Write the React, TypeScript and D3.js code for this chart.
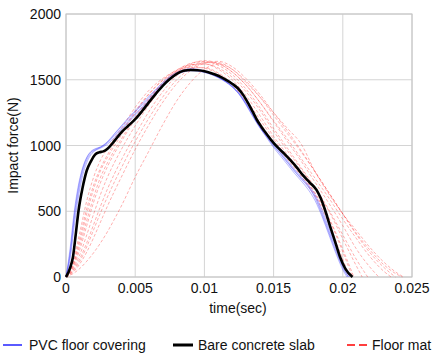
import React from "react";
import * as d3 from "d3";

// time in milliseconds, force in N
const xTicks = [0, 0.005, 0.01, 0.015, 0.02, 0.025];
const xTickLabels = ["0", "0.005", "0.01", "0.015", "0.02", "0.025"];
const yTicks = [0, 500, 1000, 1500, 2000];
const yTickLabels = ["0", "500", "1000", "1500", "2000"];
const xLabel = "time(sec)";
const yLabel = "Impact force(N)";
const legendLabels = ["PVC floor covering", "Bare concrete slab", "Floor mat"];

const bareConcrete: [number, number][] = [
  [0, 0], [0.3, 70], [0.5, 150], [0.7, 320], [0.9, 500], [1.2, 680], [1.5, 810], [1.8, 880],
  [2.1, 930], [2.4, 948], [2.7, 955], [3.0, 975], [3.5, 1035], [4.0, 1100], [4.5, 1150],
  [5.0, 1200], [5.5, 1262], [6.0, 1330], [6.5, 1395], [7.0, 1455], [7.5, 1505], [8.0, 1545],
  [8.5, 1568], [9.0, 1574], [9.5, 1572], [10.0, 1565], [10.5, 1550], [11.0, 1530],
  [11.5, 1503], [12.0, 1470], [12.4, 1437], [12.8, 1385], [13.2, 1315], [13.5, 1255],
  [13.8, 1194], [14.1, 1145], [14.4, 1100], [14.8, 1045], [15.3, 985], [15.8, 935],
  [16.2, 890], [16.7, 830], [17.1, 776], [17.6, 720], [18.1, 662], [18.4, 600], [18.7, 515],
  [19.1, 380], [19.5, 250], [19.8, 152], [20.2, 60], [20.7, 0],
];

const pvc1: [number, number][] = [
  [0, 0], [0.3, 170], [0.6, 440], [0.9, 650], [1.2, 800], [1.5, 890], [1.8, 940], [2.1, 965],
  [2.5, 985], [3, 1020], [3.5, 1075], [4, 1130], [4.5, 1185], [5, 1240], [5.5, 1295], [6, 1350],
  [6.5, 1410], [7, 1465], [7.5, 1510], [8, 1545], [8.5, 1565], [9, 1572], [9.5, 1568], [10, 1558],
  [10.5, 1540], [11, 1515], [11.5, 1485], [12, 1445], [12.5, 1390], [13, 1310], [13.5, 1220],
  [14, 1135], [14.5, 1065], [15, 995], [15.5, 935], [16, 870], [16.5, 805], [17, 745],
  [17.5, 685], [18, 610], [18.5, 490], [19, 350], [19.5, 210], [20, 80], [20.4, 0],
];
const pvc2: [number, number][] = [
  [0, 0], [0.3, 220], [0.6, 500], [0.9, 700], [1.2, 830], [1.5, 910], [1.8, 955], [2.1, 975],
  [2.5, 990], [3, 1030], [3.5, 1090], [4, 1150], [4.5, 1210], [5, 1265], [5.5, 1320], [6, 1375],
  [6.5, 1430], [7, 1480], [7.5, 1525], [8, 1555], [8.5, 1575], [9, 1585], [9.5, 1580], [10, 1568],
  [10.5, 1550], [11, 1522], [11.5, 1490], [12, 1450], [12.5, 1395], [13, 1320], [13.5, 1230],
  [14, 1140], [14.5, 1060], [15, 985], [15.5, 920], [16, 855], [16.5, 790], [17, 730],
  [17.5, 665], [18, 580], [18.5, 460], [19, 320], [19.5, 180], [20, 55], [20.3, 0],
];
const pvc3: [number, number][] = [
  [0, 0], [0.3, 140], [0.6, 390], [0.9, 610], [1.2, 770], [1.5, 870], [1.8, 930], [2.1, 960],
  [2.5, 980], [3, 1010], [3.5, 1060], [4, 1120], [4.5, 1175], [5, 1230], [5.5, 1285], [6, 1340],
  [6.5, 1400], [7, 1455], [7.5, 1500], [8, 1538], [8.5, 1560], [9, 1568], [9.5, 1565], [10, 1555],
  [10.5, 1540], [11, 1518], [11.5, 1490], [12, 1452], [12.5, 1400], [13, 1325], [13.5, 1240],
  [14, 1150], [14.5, 1080], [15, 1010], [15.5, 950], [16, 885], [16.5, 820], [17, 760],
  [17.5, 700], [18, 625], [18.5, 510], [19, 370], [19.5, 230], [20, 100], [20.5, 0],
];
const pvc4: [number, number][] = [
  [0, 0], [0.3, 190], [0.6, 470], [0.9, 680], [1.2, 820], [1.5, 905], [1.8, 950], [2.1, 970],
  [2.5, 988], [3, 1025], [3.5, 1085], [4, 1145], [4.5, 1200], [5, 1255], [5.5, 1310], [6, 1365],
  [6.5, 1420], [7, 1472], [7.5, 1515], [8, 1550], [8.5, 1570], [9, 1578], [9.5, 1574], [10, 1562],
  [10.5, 1545], [11, 1520], [11.5, 1488], [12, 1448], [12.5, 1392], [13, 1315], [13.5, 1225],
  [14, 1140], [14.5, 1070], [15, 1000], [15.5, 940], [16, 875], [16.5, 810], [17, 750],
  [17.5, 690], [18, 600], [18.5, 475], [19, 335], [19.5, 195], [20, 70], [20.4, 0],
];

const mat1: [number, number][] = [
  [0, 0], [0.5, 120], [1, 340], [1.5, 580], [2, 760], [2.5, 890], [3, 980], [4, 1130], [5, 1290],
  [6, 1420], [7, 1510], [8, 1570], [9, 1598], [10, 1588], [11, 1545], [12, 1465], [13, 1335],
  [14, 1175], [15, 1025], [16, 895], [17, 765], [18, 615], [19, 405], [20, 135], [20.5, 0],
];
const mat2: [number, number][] = [
  [0, 0], [0.5, 90], [1, 270], [1.5, 480], [2, 670], [2.5, 810], [3, 910], [4, 1080], [5, 1250],
  [6, 1390], [7, 1500], [8, 1575], [9, 1615], [10, 1620], [11, 1580], [12, 1500], [13, 1380],
  [14, 1230], [15, 1070], [16, 930], [17, 790], [18, 640], [19, 450], [20, 210], [20.8, 0],
];
const mat3: [number, number][] = [
  [0, 0], [0.5, 70], [1, 210], [1.5, 390], [2, 570], [2.5, 720], [3, 840], [4, 1030], [5, 1200],
  [6, 1350], [7, 1480], [8, 1570], [9, 1625], [10, 1640], [11, 1610], [12, 1540], [13, 1430],
  [14, 1290], [15, 1130], [16, 980], [17, 830], [18, 680], [19, 510], [20, 320], [21, 130], [21.8, 0],
];
const mat4: [number, number][] = [
  [0, 0], [0.5, 60], [1, 170], [1.5, 320], [2, 480], [2.5, 630], [3, 760], [4, 970], [5, 1150],
  [6, 1310], [7, 1450], [8, 1555], [9, 1620], [10, 1645], [11, 1625], [12, 1560], [13, 1460],
  [14, 1330], [15, 1180], [16, 1030], [17, 880], [18, 720], [19, 560], [20, 390], [21, 210],
  [22, 70], [22.6, 0],
];
const mat5: [number, number][] = [
  [0, 0], [0.5, 50], [1, 140], [1.5, 260], [2, 400], [2.5, 540], [3, 670], [4, 890], [5, 1080],
  [6, 1260], [7, 1410], [8, 1530], [9, 1605], [10, 1635], [11, 1620], [12, 1560], [13, 1460],
  [14, 1330], [15, 1190], [16, 1050], [17, 900], [18, 750], [19, 600], [20, 440], [21, 290],
  [22, 150], [23, 40], [23.5, 0],
];
const mat6: [number, number][] = [
  [0, 0], [0.5, 25], [1, 65], [1.5, 120], [2, 185], [2.5, 260], [3, 345], [3.5, 440], [4, 540],
  [5, 760], [6, 960], [7, 1160], [8, 1340], [9, 1480], [10, 1580], [11, 1620], [12, 1580],
  [13, 1480], [14, 1370], [15, 1250], [16, 1130], [17, 1010], [18, 800], [19, 630], [20, 480],
  [21, 350], [22, 220], [23, 110], [24, 25], [24.4, 0],
];
const mat7: [number, number][] = [
  [0, 0], [0.5, 100], [1, 300], [1.5, 520], [2, 700], [2.5, 830], [3, 930], [4, 1100], [5, 1260],
  [6, 1395], [7, 1495], [8, 1560], [9, 1592], [10, 1592], [11, 1552], [12, 1472], [13, 1350],
  [14, 1200], [15, 1050], [16, 910], [17, 780], [18, 630], [19, 440], [20, 190], [20.7, 0],
];
const mat8: [number, number][] = [
  [0, 0], [0.5, 45], [1, 120], [1.5, 230], [2, 360], [2.5, 490], [3, 610], [4, 830], [5, 1030],
  [6, 1210], [7, 1370], [8, 1500], [9, 1585], [10, 1630], [11, 1630], [12, 1580], [13, 1490],
  [14, 1370], [15, 1230], [16, 1090], [17, 950], [18, 800], [19, 640], [20, 480], [21, 320],
  [22, 180], [23, 70], [23.8, 0],
];
const mat9: [number, number][] = [
  [0, 0], [0.5, 80], [1, 240], [1.5, 430], [2, 610], [2.5, 760], [3, 870], [4, 1050], [5, 1215],
  [6, 1360], [7, 1475], [8, 1562], [9, 1610], [10, 1620], [11, 1590], [12, 1520], [13, 1410],
  [14, 1270], [15, 1110], [16, 960], [17, 820], [18, 670], [19, 500], [20, 290], [21, 80], [21.4, 0],
];
const mat10: [number, number][] = [
  [0, 0], [0.5, 35], [1, 100], [1.5, 190], [2, 300], [2.5, 420], [3, 540], [4, 760], [5, 970],
  [6, 1160], [7, 1330], [8, 1470], [9, 1570], [10, 1625], [11, 1640], [12, 1600], [13, 1510],
  [14, 1390], [15, 1250], [16, 1110], [17, 960], [18, 800], [19, 640], [20, 480], [21, 330],
  [22, 200], [23, 90], [24, 15], [24.3, 0],
];

const pvcSeries = [pvc1, pvc2, pvc3, pvc4];
const matSeries = [mat1, mat2, mat3, mat4, mat5, mat6, mat7, mat8, mat9, mat10];

const W = 432;
const H = 359;
const M = { left: 66, right: 412, top: 14, bottom: 277 };
const FONT = "'Liberation Sans', Arial, sans-serif";

export default function App() {
  const x = d3.scaleLinear().domain([0, 0.025]).range([M.left, M.right]);
  const y = d3.scaleLinear().domain([0, 2000]).range([M.bottom, M.top]);
  const line = d3
    .line<[number, number]>()
    .x((d) => x(d[0] / 1000))
    .y((d) => y(d[1]))
    .curve(d3.curveMonotoneX);

  const legendY = 345;
  return (
    <svg
      width={W}
      height={H}
      style={{ position: "absolute", left: 0, top: 0, background: "#fff" }}
      fontFamily={FONT}
    >
      <rect x={0} y={0} width={W} height={H} fill="#fff" />
      {xTicks.map((t) => (
        <line key={"gx" + t} x1={x(t)} x2={x(t)} y1={M.top} y2={M.bottom} stroke="#d4d4d4" strokeWidth={1} />
      ))}
      {yTicks.map((t) => (
        <line key={"gy" + t} x1={M.left} x2={M.right} y1={y(t)} y2={y(t)} stroke="#d4d4d4" strokeWidth={1} />
      ))}
      <rect x={M.left} y={M.top} width={M.right - M.left} height={M.bottom - M.top} fill="none" stroke="#c4c4c4" strokeWidth={1} />

      <defs>
        <clipPath id="plotclip">
          <rect x={M.left - 2} y={M.top} width={M.right - M.left + 4} height={M.bottom - M.top + 2} />
        </clipPath>
      </defs>
      <g clipPath="url(#plotclip)">
        {matSeries.map((s, i) => (
          <path key={"m" + i} d={line(s) || ""} fill="none" stroke="#ff2020" strokeOpacity={0.45} strokeWidth={0.8} strokeDasharray="3,2" />
        ))}
        {pvcSeries.map((s, i) => (
          <path key={"p" + i} d={line(s) || ""} fill="none" stroke="#3030ff" strokeOpacity={0.35} strokeWidth={1} />
        ))}
        <path d={line(bareConcrete) || ""} fill="none" stroke="#000" strokeWidth={2.6} strokeLinejoin="round" />
      </g>

      {yTicks.map((t, i) => (
        <text key={"ty" + t} x={61} y={y(t) + 5} textAnchor="end" fontSize={14} fill="#111">
          {yTickLabels[i]}
        </text>
      ))}
      {xTicks.map((t, i) => (
        <text key={"tx" + t} x={x(t)} y={293} textAnchor="middle" fontSize={14} fill="#111">
          {xTickLabels[i]}
        </text>
      ))}
      <text x={238} y={313} textAnchor="middle" fontSize={14} fill="#111">
        {xLabel}
      </text>
      <text transform={`translate(18,${(M.top + M.bottom) / 2}) rotate(-90)`} textAnchor="middle" fontSize={14} fill="#111">
        {yLabel}
      </text>

      <line x1={3} x2={22} y1={legendY} y2={legendY} stroke="#0000ff" strokeWidth={1.3} />
      <text x={29} y={legendY + 5} fontSize={14} fill="#111">{legendLabels[0]}</text>
      <line x1={173} x2={193} y1={legendY} y2={legendY} stroke="#000" strokeWidth={3} />
      <text x={198} y={legendY + 5} fontSize={14} fill="#111">{legendLabels[1]}</text>
      <line x1={347} x2={367} y1={legendY} y2={legendY} stroke="#ff0000" strokeWidth={1.3} strokeDasharray="8,4" />
      <text x={372} y={legendY + 5} fontSize={14} fill="#111">{legendLabels[2]}</text>
    </svg>
  );
}
